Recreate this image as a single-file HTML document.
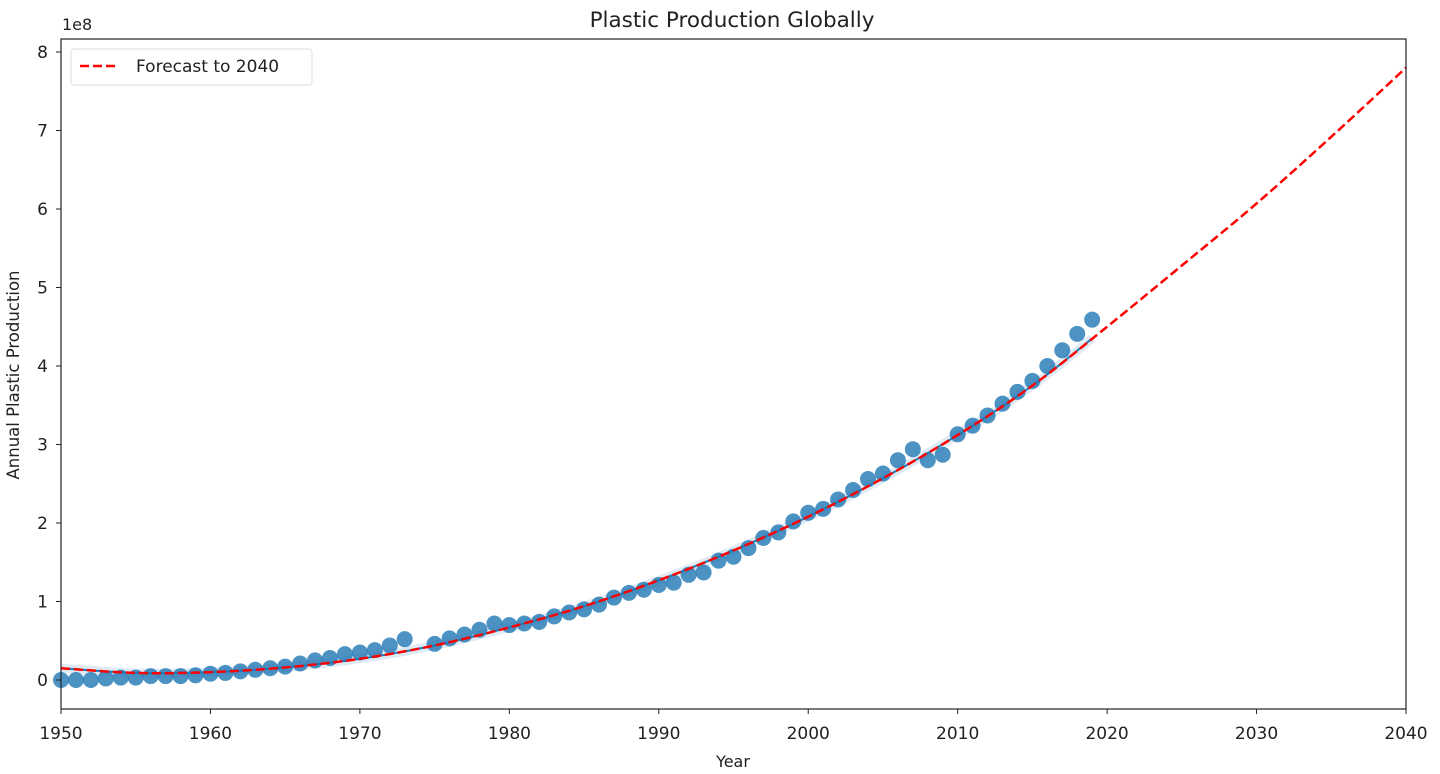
<!DOCTYPE html>
<html><head><meta charset="utf-8"><style>
html,body{margin:0;padding:0;background:#fff;}
svg{display:block;font-family:"DejaVu Sans","Liberation Sans",sans-serif;}
</style></head><body>
<svg id="chart" width="1440" height="774" viewBox="0 0 1440 774">
<rect x="0" y="0" width="1440" height="774" fill="#fff"/>
<g id="grid"></g>
<g id="marks"></g>
<g id="axes"></g>
</svg>
<script>
const years = [1950,1951,1952,1953,1954,1955,1956,1957,1958,1959,1960,1961,1962,1963,1964,1965,1966,1967,1968,1969,1970,1971,1972,1973,1975,1976,1977,1978,1979,1980,1981,1982,1983,1984,1985,1986,1987,1988,1989,1990,1991,1992,1993,1994,1995,1996,1997,1998,1999,2000,2001,2002,2003,2004,2005,2006,2007,2008,2009,2010,2011,2012,2013,2014,2015,2016,2017,2018,2019];
const production = [0.0,0.0,0.0,0.02,0.03,0.03,0.05,0.05,0.05,0.06,0.08,0.09,0.11,0.13,0.15,0.17,0.21,0.25,0.28,0.33,0.35,0.38,0.44,0.52,0.46,0.53,0.58,0.64,0.72,0.70,0.72,0.74,0.81,0.86,0.90,0.96,1.05,1.11,1.15,1.21,1.24,1.34,1.37,1.52,1.57,1.68,1.81,1.88,2.02,2.13,2.18,2.30,2.42,2.56,2.63,2.80,2.94,2.80,2.87,3.13,3.24,3.37,3.52,3.67,3.81,4.00,4.20,4.41,4.59];
const fitYears = [1950,1955,1960,1965,1970,1975,1980,1985,1990,1995,2000,2005,2010,2015,2019];
const fitValues = [0.15,0.09,0.10,0.16,0.27,0.44,0.67,0.94,1.27,1.65,2.08,2.57,3.12,3.75,4.35];
const forecastYears = [1950,1955,1960,1965,1970,1975,1980,1985,1990,1995,2000,2005,2010,2015,2020,2025,2030,2035,2040];
const forecastValues = [0.15,0.09,0.10,0.16,0.27,0.44,0.67,0.94,1.27,1.65,2.08,2.57,3.12,3.75,4.50,5.28,6.07,6.92,7.80];
const xTicks = [1950,1960,1970,1980,1990,2000,2010,2020,2030,2040];
const yTicks = [0,1,2,3,4,5,6,7,8];

const L=61,R=1406,T=39,B=709;
const xMin=1950,xMax=2040;
const x = v => L + (v-xMin)/(xMax-xMin)*(R-L);
const y0=680, yUnit=78.5;
const y = v => y0 - v*yUnit;
const NS='http://www.w3.org/2000/svg';
function mk(tag, attrs, parent){const e=document.createElementNS(NS,tag);for(const k in attrs)e.setAttribute(k,attrs[k]);parent.appendChild(e);return e;}
function smooth(xs, ys){
  const p=xs.map((v,i)=>[x(v),y(ys[i])]);
  let d='M'+p[0][0]+','+p[0][1];
  for(let i=0;i<p.length-1;i++){
    const p0=p[i-1]||p[i],p1=p[i],p2=p[i+1],p3=p[i+2]||p2;
    const c1=[p1[0]+(p2[0]-p0[0])/6,p1[1]+(p2[1]-p0[1])/6];
    const c2=[p2[0]-(p3[0]-p1[0])/6,p2[1]-(p3[1]-p1[1])/6];
    d+=' C'+c1+' '+c2+' '+p2;
  }
  return d;
}
const marks=document.getElementById('marks'), axes=document.getElementById('axes');

const band=mk('path',{d:smooth(fitYears,fitValues),fill:'none',stroke:'#1f77b4','stroke-opacity':'0.15','stroke-width':'9'},marks);



years.forEach((yr,i)=>{
  const c=mk('circle',{cx:x(yr),cy:y(production[i]),r:8,fill:'#1f77b4','fill-opacity':'0.8'},marks);
  
  
});
const fit=mk('path',{d:smooth(fitYears,fitValues),fill:'none',stroke:'#1f77b4','stroke-width':'2'},marks);


const fc=mk('path',{d:smooth(forecastYears,forecastValues),fill:'none',stroke:'#ff0000','stroke-width':'2.5','stroke-dasharray':'9,4'},marks);



const frame=mk('rect',{x:L,y:T,width:R-L,height:B-T,fill:'none',stroke:'#222','stroke-width':'1.2'},axes);



xTicks.forEach(t=>{
  const ln=mk('line',{x1:x(t),x2:x(t),y1:B,y2:B+5,stroke:'#222'},axes);
  
  
  const tx=mk('text',{x:x(t),y:B+30,'text-anchor':'middle','font-size':'17',fill:'#222'},axes);
  tx.textContent=t;
  
  
});
yTicks.forEach(t=>{
  const ln=mk('line',{x1:L-5,x2:L,y1:y(t),y2:y(t),stroke:'#222'},axes);
  
  
  const tx=mk('text',{x:L-13,y:y(t)+6,'text-anchor':'end','font-size':'17',fill:'#222'},axes);
  tx.textContent=t;
  
  
});
</script>
<svg width="1440" height="774" style="position:absolute;left:0;top:0" viewBox="0 0 1440 774">
<text x="62" y="30" font-size="16" fill="#222">1e8</text>
<text x="732" y="27" font-size="21.5" text-anchor="middle" fill="#222">Plastic Production Globally</text>
<text x="733" y="767" font-size="16" text-anchor="middle" fill="#222">Year</text>
<text x="19" y="375" font-size="16.5" text-anchor="middle" fill="#222" transform="rotate(-90 19 375)">Annual Plastic Production</text>
<g>
<rect x="71" y="49" width="241" height="36" rx="3" fill="#fff" stroke="#ddd"/>
<line x1="80" y1="66" x2="118" y2="66" stroke="#ff0000" stroke-width="2.5" stroke-dasharray="9,4"/>
<text x="136" y="72" font-size="17" fill="#222">Forecast to 2040</text>
</g>
</svg>
</body></html>
